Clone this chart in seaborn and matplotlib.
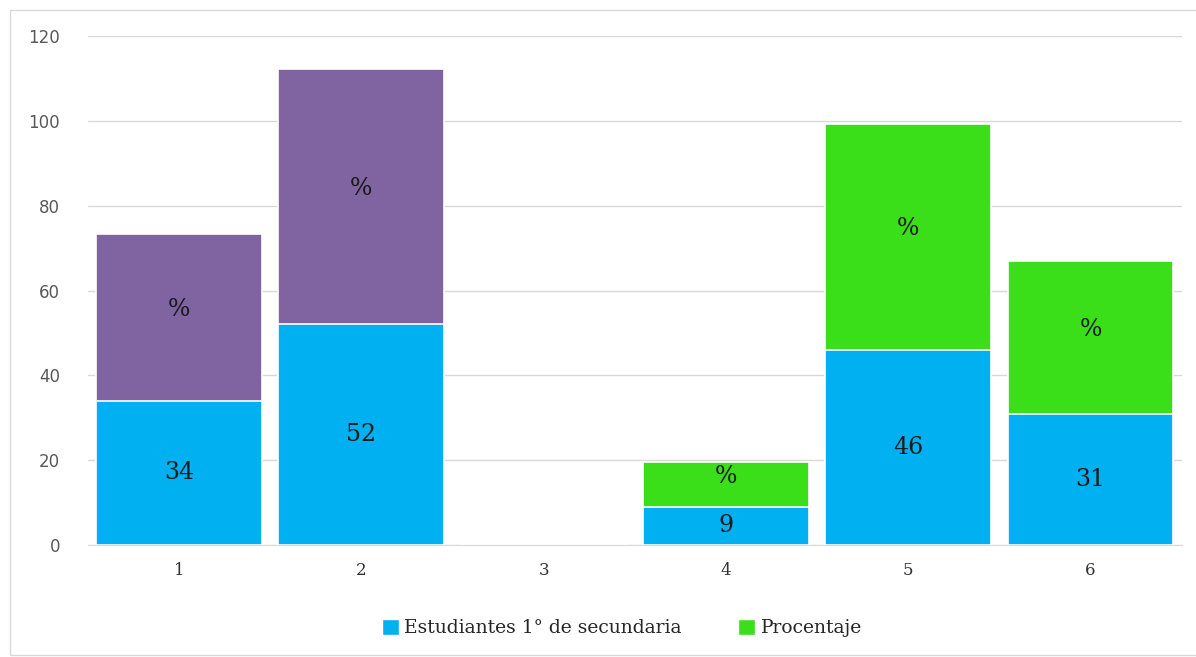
#!/usr/bin/env python3

import seaborn as sns
import matplotlib.pyplot as plt
import pandas as pd
from matplotlib.patches import Patch, Rectangle

categories = ["1", "2", "3", "4", "5", "6"]
estudiantes = [34, 52, 0, 9, 46, 31]
porcentaje = [39.3, 60.2, 0, 10.6, 53.2, 35.9]
top_labels = ["%", "%", "", "%", "%", "%"]

blue = "#00B0F0"
purple = "#8064A2"
green = "#3ADF1A"
top_colors = [purple, purple, green, green, green, green]


def main():
    d = pd.DataFrame({"cat": categories,
                      "est": estudiantes,
                      "pct": porcentaje})
    d["total"] = d["est"] + d["pct"]

    sns.set_style("white")
    f = plt.figure(figsize=(11.96, 6.57), dpi=100)
    ax = f.add_axes([0.0736, 0.1705, 0.9144, 0.7745])

    # stacked: draw totals first, then the bottom series over them
    sns.barplot(x="cat", y="total", data=d, hue="cat", palette=top_colors,
                legend=False, width=0.91, saturation=1,
                edgecolor="white", linewidth=1.2, ax=ax)
    sns.barplot(x="cat", y="est", data=d, color=blue, saturation=1,
                width=0.91, edgecolor="white", linewidth=1.2, ax=ax)

    for i, row in d.iterrows():
        if row["est"] > 0:
            ax.text(i, row["est"] / 2, str(row["est"]), ha="center", va="center",
                    fontsize=17, family="DejaVu Serif", color="#1a1a1a")
        if row["pct"] > 0:
            ax.annotate(top_labels[i], (i, row["est"] + row["pct"] / 2),
                        xytext=(0, 6), textcoords="offset points",
                        ha="center", va="center", fontsize=17,
                        family="DejaVu Serif", color="#1a1a1a")

    ax.set_ylim(0, 120)
    ax.set_yticks(range(0, 121, 20))
    ax.set_xlim(-0.5, 5.5)
    ax.yaxis.grid(True, color="#d9d9d9", linewidth=1)
    ax.set_axisbelow(True)
    for s in ["top", "right", "left"]:
        ax.spines[s].set_visible(False)
    ax.spines["bottom"].set_color("#d9d9d9")
    ax.set(xlabel="", ylabel="")
    ax.tick_params(axis="y", length=0, pad=20, labelsize=12, labelcolor="#595959")
    ax.tick_params(axis="x", length=0, pad=12, labelsize=12, labelcolor="#333333")
    for t in ax.get_xticklabels():
        t.set_family("DejaVu Serif")
    for t in ax.get_yticklabels():
        t.set_family("DejaVu Sans")

    handles = [Patch(facecolor=blue, label="Estudiantes 1° de secundaria"),
               Patch(facecolor=green, label="Procentaje")]
    f.legend(handles=handles, loc="center", bbox_to_anchor=(0.52, 0.044),
             ncol=2, frameon=False, handlelength=0.9, handleheight=0.9,
             handletextpad=0.3, columnspacing=3.0,
             prop={"family": "DejaVu Serif", "size": 13.5})

    f.patches.append(Rectangle((10 / 1196, 2 / 657), 1.2, 645 / 657,
                               transform=f.transFigure, fill=False,
                               edgecolor="#d9d9d9", linewidth=1))

    plt.savefig("out.png", dpi=100)


if __name__ == "__main__":
    main()
